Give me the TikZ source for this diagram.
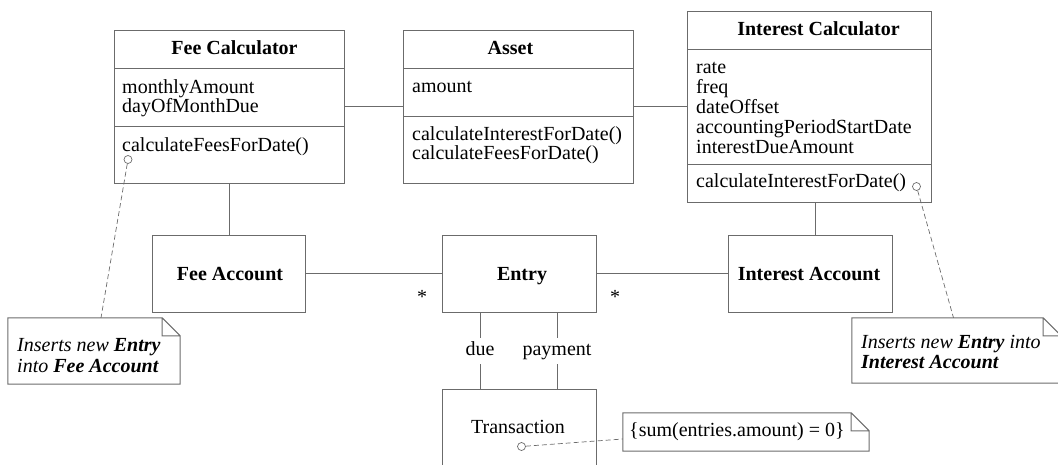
\documentclass[tikz,border=0pt]{standalone}
\usepackage{fontspec}
\setmainfont{Liberation Serif}
\usetikzlibrary{calc}

\newcommand\foldnote[2]{%
    \draw[line] (#1.north west) -- ([xshift=-#2]#1.north east) -- ([yshift=-#2]#1.north east) -- (#1.south east) -- (#1.south west) -- cycle
        ([xshift=-#2]#1.north east) |- ([yshift=-#2]#1.north east);}

\begin{document}
\begin{tikzpicture}[x=1pt, y=-1pt,
        every node/.style={font=\fontsize{20}{20}\selectfont, inner sep=0pt},
        line/.style={draw=black!58, line width=1pt},
        box/.style={line, outer sep=0pt},
        txt/.style={anchor=base west},
        ttl/.style={anchor=base, font=\fontsize{20}{20}\selectfont\bfseries},
        dot/.style={circle, draw=black!58, line width=0.7pt, minimum size=8pt},
        dashline/.style={draw=black!58, line width=0.7pt, dash pattern=on 5pt off 3pt},
        role/.style={midway, fill=white, inner xsep=1pt, inner ysep=4pt, text height=14pt, text depth=4pt}]
            \path[use as bounding box] (0,0) rectangle (1058,464);
            \clip (0,0) rectangle (1058,464);
            \def\fold{18pt};

            % classes
            \node[box, minimum width=230pt, minimum height=153pt] (feecalc) at (229,106.5) {};
            \node[box, minimum width=230pt, minimum height=153pt] (asset) at (518,106.5) {};
            \node[box, minimum width=244pt, minimum height=191pt] (intcalc) at (809,106.5) {};
            \node[box, minimum width=153pt, minimum height=77pt] (feeacc) at (228.5,273.5) {};
            \node[box, minimum width=154pt, minimum height=77pt] (entry) at (519,273.5) {};
            \node[box, minimum width=164pt, minimum height=77pt] (intacc) at (810,273.5) {};
            \node[box, minimum width=154pt, minimum height=120pt] (trans) at (519,449) {};

            \draw[line] (feecalc.north west) ++(0,38) -- ++(230,0)
                (feecalc.north west) ++(0,96) -- ++(230,0)
                (asset.north west) ++(0,38) -- ++(230,0)
                (asset.north west) ++(0,86) -- ++(230,0)
                (intcalc.north west) ++(0,38) -- ++(244,0)
                (intcalc.north west) ++(0,153) -- ++(244,0);

            \node[ttl] (fctitle) at (234.5,54) {Fee Calculator};
            \node[txt] (fcattr1) at (122,93) {monthlyAmount};
            \node[txt] (fcattr2) at (122,112) {dayOfMonthDue};
            \node[txt] (fcop1) at (122,151) {calculateFeesForDate()};

            \node[ttl] (astitle) at (510.5,54) {Asset};
            \node[txt] (asattr1) at (412,92) {amount};
            \node[txt] (asop1) at (412,140) {calculateInterestForDate()};
            \node[txt] (asop2) at (412,159.5) {calculateFeesForDate()};

            \node[ttl] (ictitle) at (818.5,35) {Interest Calculator};
            \node[txt] (icattr1) at (696,73.5) {rate};
            \node[txt] (icattr2) at (696,93.5) {freq};
            \node[txt] (icattr3) at (696,113.5) {dateOffset};
            \node[txt] (icattr4) at (696,133.5) {accountingPeriodStartDate};
            \node[txt] (icattr5) at (696,153.5) {interestDueAmount};
            \node[txt] (icop1) at (696,187) {calculateInterestForDate()};

            \node[ttl] (fatitle) at (230,280) {Fee Account};
            \node[ttl] (entitle) at (522,280) {Entry};
            \node[ttl] (iatitle) at (809,280) {Interest Account};
            \node[anchor=base] (trtitle) at (518,433) {Transaction};

            % associations
            \draw[line] (feecalc) -- (asset);
            \draw[line] (asset) -- (intcalc);
            \draw[line] (feecalc.south) -- (feecalc.south |- feeacc.north);
            \path (intcalc.south) ++(6,0) coordinate (icfoot);
            \draw[line] (icfoot) -- (icfoot |- intacc.north);
            \draw[line] (feeacc) -- (entry);
            \draw[line] (entry) -- (intacc);
            \node[anchor=base] (starfee) at (422,303.5) {*};
            \node[anchor=base] (starint) at (615,303.5) {*};

            \draw[line] ([xshift=-39pt]entry.south) -- ([xshift=-39pt]trans.north) node[role] (due) {due};
            \draw[line] ([xshift=38pt]entry.south) -- ([xshift=38pt]trans.north) node[role] (payment) {payment};

            % notes
            \node[minimum width=172pt, minimum height=66pt] (feenote) at (94,351) {};
            \node[minimum width=209pt, minimum height=65pt] (intnote) at (956.5,350.5) {};
            \node[minimum width=246pt, minimum height=38pt] (sumnote) at (746,432) {};
            \foldnote{feenote}{\fold}
            \foldnote{intnote}{\fold}
            \foldnote{sumnote}{\fold}

            \node[txt] (fn1) at (17,351) {\itshape Inserts new \textbf{Entry}};
            \node[txt] (fn2) at (17,372) {\itshape into \textbf{Fee Account}};
            \node[txt] (in1) at (861,348) {\itshape Inserts new \textbf{Entry} into};
            \node[txt] (in2) at (861,368) {\itshape\bfseries Interest Account};
            \node[txt] (sn1) at (629,436) {\{sum(entries.amount) = 0\}};

            \node[dot] (fcdot) at (128,159.5) {};
            \node[dot] (icdot) at (916.5,186.5) {};
            \node[dot] (trdot) at (521.5,446.5) {};
            \draw[dashline] (fcdot) -- ([xshift=7pt]feenote.north);
            \draw[dashline] (icdot) -- ([xshift=-3pt]intnote.north);
            \draw[dashline] (trdot) -- ([yshift=-7pt]sumnote.west);
        \end{tikzpicture}
\end{document}
